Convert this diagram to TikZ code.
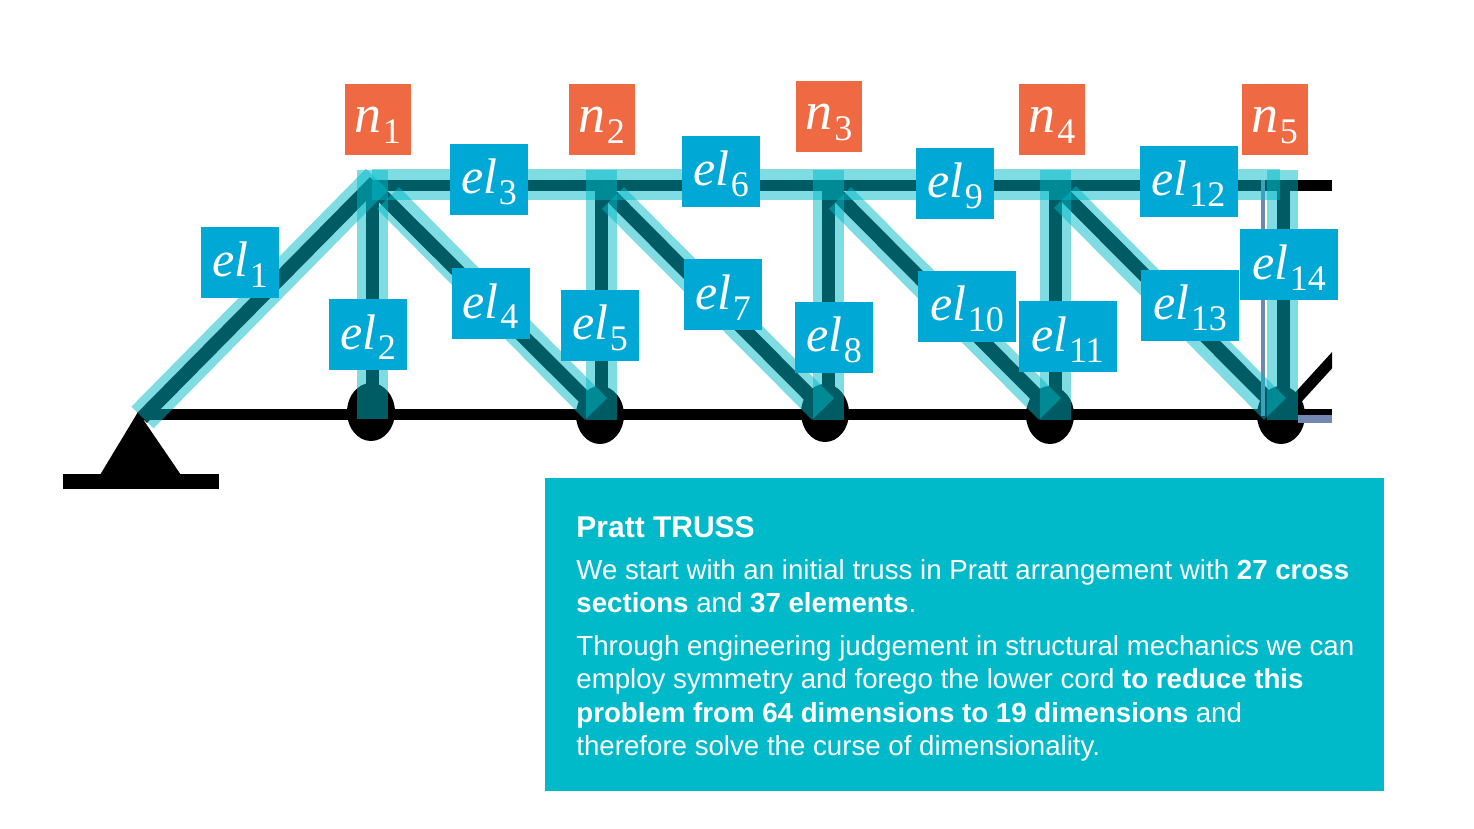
\documentclass[tikz,border=0pt]{standalone}
\usepackage{fontspec}
\setmainfont{Liberation Sans}
\newfontfamily\symbfont{Liberation Serif}
\usetikzlibrary{positioning, shapes.geometric}
\definecolor{bandcol}{HTML}{00B9C8}
\definecolor{elcol}{HTML}{00A8D6}
\definecolor{ncol}{HTML}{EF6A42}
\definecolor{panelcol}{HTML}{00BACA}
\definecolor{ghostcol}{HTML}{7189B2}
\newcommand{\symsub}[2]{{\symbfont\itshape #1}\kern0.8pt\raisebox{-5.5pt}{\fontsize{18}{18}\selectfont\symbfont #2}}
\newcommand{\elname}[1]{\rule{0pt}{20pt}\symsub{el}{#1}}
\newcommand{\nname}[1]{\vphantom{\symbfont\itshape l}\symsub{n}{#1}}
\tikzset{
	member/.style={line width=5.5pt, black},
	strut/.style={line width=6.5pt, black},
	diagonal/.style={line width=7pt, black},
	band/.style={line width=15.5pt, bandcol, opacity=0.5},
	elbox/.style={fill=elcol, text=white, inner sep=0pt, minimum width=39pt, minimum height=35.5pt, font=\fontsize{25}{25}\selectfont},
	elwide/.style={elbox, minimum width=49pt},
	nbox/.style={fill=ncol, text=white, inner sep=0pt, minimum width=33pt, minimum height=35.5pt, font=\fontsize{27}{27}\selectfont},
	joint/.style={ellipse, fill=black, inner sep=0pt, minimum width=24pt, minimum height=29pt},
	paneltext/.style={text=white, inner sep=0pt, align=left, anchor=north west, font=\fontsize{13.83}{16.75}\selectfont}
}
\begin{document}
\begin{tikzpicture}[x=0.5pt, y=-0.5pt]
	\useasboundingbox (0,0) rectangle (1474,829);
	% joints of the truss
	\coordinate (support) at (142,418);
	\coordinate (top0) at (375,182);
	\coordinate (top1) at (372,185.5);
	\coordinate (top2) at (601,185.5);
	\coordinate (top3) at (828,185.5);
	\coordinate (top4) at (1055,185.5);
	\coordinate (top5) at (1283,185.5);
	\coordinate (endtop) at (1332,185.5);
	\coordinate (low0) at (142,414);
	\coordinate (low1) at (372,414);
	\coordinate (low2) at (601,414);
	\coordinate (low3) at (828,414);
	\coordinate (low4) at (1055,414);
	\coordinate (low5) at (1283,414);
	\coordinate (endlow) at (1332,414);
	\coordinate (nextdiag) at (1345,346);

	\begin{scope}
		\clip (0,0) rectangle (1332,829);
		\draw[member] (low5) -- (nextdiag);
	\end{scope}
	\draw[member] (low0) -- (endlow);
	\draw[member] (top1) -- (endtop);
	\draw[diagonal] (support) -- (top0);
	\draw[strut] (top1) -- (low1);
	\draw[strut] (top2) -- (low2);
	\draw[strut] (top3) -- (low3);
	\draw[strut] (top4) -- (low4);
	\draw[strut] (top5) -- (low5);
	\draw[diagonal] (top1) -- (low2);
	\draw[diagonal] (top2) -- (low3);
	\draw[diagonal] (top3) -- (low4);
	\draw[diagonal] (top4) -- (low5);

	\node[joint] (j1) at (371,412) {};
	\node[joint] (j2) at (600,415) {};
	\node[joint] (j3) at (825,413) {};
	\node[joint] (j4) at (1050,415) {};
	\node[joint] (j5) at (1281,415) {};

	\path[fill=black] (138,412) -- (181,475) -- (100,475) -- cycle;
	\path[fill=black] (63,474) rectangle (219,489);

	% bands over the members
	\coordinate (bandstart) at (372,185);
	\coordinate (bandend) at (1280,185);
	\coordinate (b1a) at (142.5,417.5);
	\coordinate (b1b) at (377,179.5);
	\coordinate (v1a) at (372,170);
	\coordinate (v1b) at (372,419);
	\coordinate (v2a) at (601,170);
	\coordinate (v2b) at (601,420);
	\coordinate (v3a) at (828,170);
	\coordinate (v3b) at (828,420);
	\coordinate (v4a) at (1055,170);
	\coordinate (v4b) at (1055,420);
	\coordinate (v5a) at (1282,170);
	\coordinate (v5b) at (1282,420);
	\coordinate (d1a) at (388,198);
	\coordinate (d1b) at (596,409);
	\coordinate (d2a) at (613,198);
	\coordinate (d2b) at (823,409);
	\coordinate (d3a) at (840,198);
	\coordinate (d3b) at (1050,409);
	\coordinate (d4a) at (1065,197);
	\coordinate (d4b) at (1275,409);
	\coordinate (ghosttop) at (1262.5,180);
	\coordinate (ghostlow) at (1262.5,416);
	\coordinate (stripa) at (1298,419);
	\coordinate (stripb) at (1332,419);

	\draw[line width=2pt, ghostcol] (ghosttop) -- (ghostlow);
	\draw[line width=4pt, ghostcol] (stripa) -- (stripb);
	\draw[band] (bandstart) -- (bandend);
	\draw[band] (b1a) -- (b1b);
	\draw[band] (v1a) -- (v1b);
	\draw[band] (v2a) -- (v2b);
	\draw[band] (v3a) -- (v3b);
	\draw[band] (v4a) -- (v4b);
	\draw[band] (v5a) -- (v5b);
	\draw[band] (d1a) -- (d1b);
	\draw[band] (d2a) -- (d2b);
	\draw[band] (d3a) -- (d3b);
	\draw[band] (d4a) -- (d4b);

	\node[nbox] (n1) at (377.5,119.5) {\nname{1}};
	\node[nbox] (n2) at (601.5,119.5) {\nname{2}};
	\node[nbox] (n3) at (829,116.5) {\nname{3}};
	\node[nbox] (n4) at (1052,119.5) {\nname{4}};
	\node[nbox] (n5) at (1274.5,119.5) {\nname{5}};

	\node[elbox] (el1) at (240,262.5) {\elname{1}};
	\node[elbox] (el2) at (368,334.5) {\elname{2}};
	\node[elbox] (el3) at (489,179.5) {\elname{3}};
	\node[elbox] (el4) at (490.5,303.5) {\elname{4}};
	\node[elbox] (el5) at (600,325.5) {\elname{5}};
	\node[elbox] (el6) at (721,171.5) {\elname{6}};
	\node[elbox] (el7) at (723,294.5) {\elname{7}};
	\node[elbox] (el8) at (834,337.5) {\elname{8}};
	\node[elbox] (el9) at (955,183.5) {\elname{9}};
	\node[elwide] (el10) at (967,306.5) {\elname{10}};
	\node[elwide] (el11) at (1067.5,336.5) {\elname{11}};
	\node[elwide] (el12) at (1188.5,181.5) {\elname{12}};
	\node[elwide] (el13) at (1190,305.5) {\elname{13}};
	\node[elwide] (el14) at (1289,264.5) {\elname{14}};

	\node[fill=panelcol, inner sep=0pt, minimum width=419.5pt, minimum height=156.5pt, anchor=north west] (panel) at (545,478) {};
	\node[paneltext, font=\fontsize{15}{17}\selectfont\bfseries] (title) at (576,516) {Pratt TRUSS};
	\node[paneltext] (para1) at (576,559) {We start with an initial truss in Pratt arrangement with \textbf{27 cross}\\\textbf{sections} and \textbf{37 elements}.};
	\node[paneltext] (para2) at (576,635) {Through engineering judgement in structural mechanics we can\\employ symmetry and forego the lower cord \textbf{to reduce this}\\\textbf{problem from 64 dimensions to 19 dimensions} and\\therefore solve the curse of dimensionality.};
\end{tikzpicture}
\end{document}
